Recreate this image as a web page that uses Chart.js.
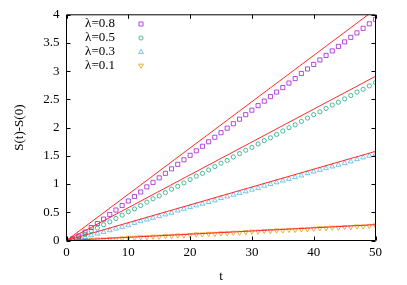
<!DOCTYPE html>
<html>
<head>
<meta charset="utf-8">
<script src="https://cdn.jsdelivr.net/npm/chart.js@4.4.1/dist/chart.umd.min.js"></script>
<style>
html,body{margin:0;padding:0;background:#fff;}
#wrap{width:407px;height:285px;position:relative;}
</style>
</head>
<body>
<div id="wrap"><canvas id="c" width="407" height="285"></canvas></div>
<script>
// ---- data ----
const times = [0,1,2,3,4,5,6,7,8,9,10,11,12,13,14,15,16,17,18,19,20,21,22,23,24,25,26,27,28,29,30,31,32,33,34,35,36,37,38,39,40,41,42,43,44,45,46,47,48,49,50];
const seriesLabels = ['λ=0.8','λ=0.5','λ=0.3','λ=0.1'];
const s08 = [0,0.03,0.08,0.15,0.23,0.30,0.38,0.46,0.54,0.62,0.70,0.78,0.86,0.95,1.03,1.11,1.19,1.27,1.35,1.43,1.51,1.59,1.67,1.75,1.83,1.91,1.99,2.07,2.15,2.23,2.31,2.39,2.47,2.55,2.63,2.71,2.79,2.87,2.96,3.04,3.12,3.20,3.28,3.36,3.44,3.52,3.60,3.68,3.76,3.84,3.92];
const s05 = [0,0.02,0.06,0.11,0.17,0.22,0.28,0.33,0.39,0.45,0.51,0.56,0.62,0.68,0.74,0.79,0.85,0.91,0.96,1.02,1.08,1.14,1.19,1.25,1.31,1.37,1.42,1.48,1.54,1.60,1.65,1.71,1.77,1.82,1.88,1.94,2.00,2.05,2.11,2.17,2.23,2.28,2.34,2.40,2.45,2.51,2.57,2.63,2.68,2.74,2.80];
const s03 = [0,0.01,0.03,0.06,0.09,0.12,0.15,0.18,0.21,0.24,0.27,0.31,0.34,0.37,0.40,0.43,0.46,0.49,0.53,0.56,0.59,0.62,0.65,0.68,0.71,0.75,0.78,0.81,0.84,0.87,0.90,0.93,0.97,1.00,1.03,1.06,1.09,1.12,1.15,1.19,1.22,1.25,1.28,1.31,1.34,1.37,1.40,1.44,1.47,1.50,1.53];
const s01 = [0,0.00,0.01,0.01,0.01,0.02,0.02,0.03,0.03,0.04,0.05,0.05,0.06,0.06,0.07,0.07,0.08,0.08,0.09,0.09,0.10,0.11,0.11,0.12,0.12,0.13,0.13,0.14,0.14,0.15,0.16,0.16,0.17,0.17,0.18,0.18,0.19,0.19,0.20,0.20,0.21,0.22,0.22,0.23,0.23,0.24,0.24,0.25,0.25,0.26,0.27];
// straight reference lines: value at t=0 and t=50
const lineT = [0, 50];
const line08 = [0, 4.10];
const line05 = [0, 2.91];
const line03 = [0, 1.58];
const line01 = [0, 0.28];
const xTickLabels = ['0','10','20','30','40','50'];
const yTickLabels = ['0','0.5','1','1.5','2','2.5','3','3.5','4'];
const xTitle = 't';
const yTitle = 'S(t)-S(0)';

// ---- styles ----
const FONT = "'Liberation Serif'";
const colors = ['rgba(148,0,211,0.7)','rgba(0,158,115,0.7)','rgba(86,180,233,0.8)','rgba(230,159,0,0.8)'];
const pStyles = ['rect','circle','triangle','triangle'];
const pRadius = [2.9,2.1,2.8,2.8];
const pRot = [0,0,0,180];
const seriesData = [s08,s05,s03,s01];
const lineData = [line08,line05,line03,line01];

Chart.defaults.color = '#000';
Chart.defaults.font.family = FONT;
Chart.defaults.font.size = 13;

const datasets = [];
seriesData.forEach((arr,i)=>{
  datasets.push({
    type:'scatter',
    label: seriesLabels[i],
    data: times.map((t,k)=>({x:t,y:arr[k]})),
    pointStyle:pStyles[i], pointRadius:pRadius[i], pointRotation:pRot[i],
    borderColor:colors[i], backgroundColor:'rgba(0,0,0,0)', borderWidth:1,
    showLine:false, order:2
  });
});
lineData.forEach((arr,i)=>{
  datasets.push({
    type:'line',
    label:'fit',
    data: lineT.map((t,k)=>({x:t,y:arr[k]})),
    borderColor:'#ff2a2a', borderWidth:1, pointRadius:0, fill:false,
    order:1
  });
});

const frame = {
  id:'frame',
  afterDatasetsDraw(chart){
    const ctx = chart.ctx, a = chart.chartArea;
    const xs = chart.scales.x, ys = chart.scales.y;
    ctx.save();
    ctx.strokeStyle = '#000'; ctx.lineWidth = 1;
    const TL = 4;
    ctx.beginPath();
    xs.ticks.forEach((t)=>{
      const px = Math.round(xs.getPixelForValue(t.value)) + 0.5;
      ctx.moveTo(px, a.bottom); ctx.lineTo(px, a.bottom - TL);
      ctx.moveTo(px, a.top); ctx.lineTo(px, a.top + TL);
    });
    ys.ticks.forEach((t)=>{
      const py = Math.round(ys.getPixelForValue(t.value)) + 0.5;
      ctx.moveTo(a.left, py); ctx.lineTo(a.left + TL, py);
      ctx.moveTo(a.right, py); ctx.lineTo(a.right - TL, py);
    });
    ctx.stroke();
    ctx.beginPath();
    ctx.rect(a.left, a.top, a.right - a.left, a.bottom - a.top);
    ctx.stroke();
    // legend
    ctx.font = '13px ' + FONT;
    ctx.textAlign = 'right';
    ctx.textBaseline = 'middle';
    const ly = [24,38,52,65.5];
    seriesLabels.forEach((lab,i)=>{
      ctx.fillStyle = '#000';
      ctx.fillText(lab, 115, ly[i]);
      ctx.strokeStyle = colors[i]; ctx.lineWidth = 1;
      ctx.fillStyle = 'rgba(0,0,0,0)';
      Chart.helpers.drawPoint(ctx, {pointStyle:pStyles[i], radius:pRadius[i], rotation:pRot[i], borderWidth:1}, 141, ly[i]);
    });
    ctx.restore();
  }
};

new Chart(document.getElementById('c'), {
  type:'scatter',
  data:{datasets},
  options:{
    responsive:false, maintainAspectRatio:false, animation:false,
    layout:{padding:{top:14, right:31.5, left:0, bottom:0}},
    plugins:{legend:{display:false}, tooltip:{enabled:false}},
    scales:{
      x:{
        type:'linear', min:0, max:50,
        ticks:{stepSize:10, padding:4, maxRotation:0, callback:(v,i)=>xTickLabels[i], font:{family:FONT, size:13}},
        grid:{display:false, drawTicks:false}, border:{display:false},
        title:{display:true, text:xTitle, padding:{top:0,bottom:1}, font:{family:FONT, size:13}},
        afterFit(s){ s.height = 44.5; }
      },
      y:{
        type:'linear', min:0, max:4,
        ticks:{stepSize:0.5, padding:7, callback:(v,i)=>yTickLabels[i], font:{family:FONT, size:13}},
        grid:{display:false, drawTicks:false}, border:{display:false},
        title:{display:true, text:yTitle, padding:{top:12,bottom:0}, font:{family:FONT, size:13}},
        afterFit(s){ s.width = 66.5; }
      }
    }
  },
  plugins:[frame]
});
</script>
</body>
</html>
